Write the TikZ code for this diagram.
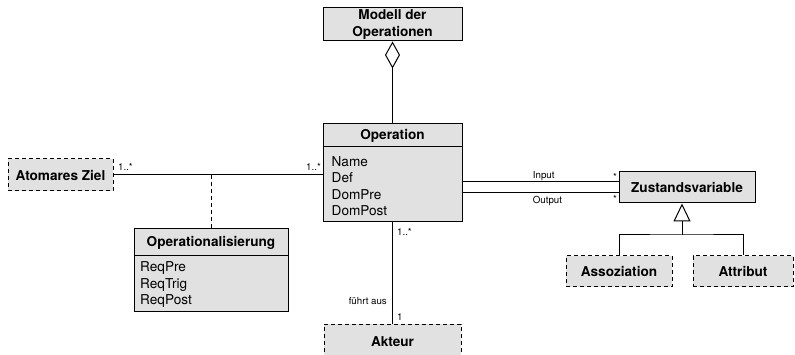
\documentclass[tikz,border=0pt]{standalone}
\usepackage{fontspec}
\setmainfont{TeX Gyre Heros}
\usetikzlibrary{arrows.meta}
\definecolor{boxfill}{RGB}{225,225,225}
\begin{document}
\begin{tikzpicture}[x=1pt,y=-1pt,
  classbox/.style={draw,line width=1pt,fill=boxfill,inner sep=0pt},
  dashbox/.style={classbox,dash pattern=on 4pt off 3pt},
  title/.style={font=\fontsize{13.6}{16.4}\selectfont\bfseries,inner sep=0pt},
  attr/.style={font=\fontsize{13.6}{16.4}\selectfont,inner sep=0pt,anchor=base west},
  small/.style={font=\fontsize{9.7}{11}\selectfont,inner sep=0pt},
  conn/.style={line width=1pt}]
\useasboundingbox (0,0) rectangle (795,355);

% class boxes
\node[classbox,minimum width=139pt,minimum height=33pt] (mod) at (392.5,24.5) {};
\node[title,align=center] (modt) at (mod.center) {Modell der\\Operationen};

\node[classbox,minimum width=139pt,minimum height=98pt] (op) at (392.5,173) {};
\draw[conn] (323,147) -- (462,147);
\node[title] (opt) at (392.5,135.5) {Operation};
\node[attr] (op1) at (331.5,166.6) {Name};
\node[attr] (op2) at (331.5,183.0) {Def};
\node[attr] (op3) at (331.5,199.4) {DomPre};
\node[attr] (op4) at (331.5,215.8) {DomPost};

\node[dashbox,minimum width=105pt,minimum height=32pt] (ziel) at (60.5,175) {};
\node[title] (zielt) at (ziel.center) {Atomares Ziel};

\node[classbox,minimum width=154pt,minimum height=83pt] (opz) at (211,270.5) {};
\draw[conn] (134,256) -- (288,256);
\node[title] (opzt) at (211,242.5) {Operationalisierung};
\node[attr] (opz1) at (140,271.6) {ReqPre};
\node[attr] (opz2) at (140,288.2) {ReqTrig};
\node[attr] (opz3) at (140,304.8) {ReqPost};

\node[classbox,minimum width=136pt,minimum height=31pt] (zv) at (687,187.5) {};
\node[title] (zvt) at (zv.center) {Zustandsvariable};

\node[dashbox,minimum width=106pt,minimum height=31pt] (ass) at (619,271.5) {};
\node[title] (asst) at (ass.center) {Assoziation};

\node[dashbox,minimum width=100pt,minimum height=31pt] (att) at (743,271.5) {};
\node[title] (attt) at (att.center) {Attribut};

\node[dashbox,minimum width=137pt,minimum height=38pt] (akt) at (392.5,343) {};
\node[title] (aktt) at (392.5,342) {Akteur};

% aggregation
\draw[conn,-{Diamond[open,width=15pt,length=27pt,line width=1pt]}] (op.north) -- (mod.south);

% association Atomares Ziel -- Operation with association class
\coordinate (ac) at (211,175);
\draw[conn] (ziel.east) -- (ziel.east -| op.west);
\draw[conn,dash pattern=on 4pt off 3pt] (ac) -- (opz.north);
\node[small,anchor=base west] (m1) at (118,171) {1..*};
\node[small,anchor=base east] (m2) at (321,171) {1..*};

% Input / Output
\draw[conn] ([yshift=5.5pt]zv.west) -- ([yshift=5.5pt]zv.west -| op.east);
\draw[conn] ([yshift=-5.5pt]zv.west) -- ([yshift=-5.5pt]zv.west -| op.east);
\node[small,anchor=base west] (lin) at (532.7,178.5) {Input};
\node[small,anchor=base west] (lout) at (532.7,204) {Output};
\node[small,anchor=base east] (s1) at (617,181) {*};
\node[small,anchor=base east] (s2) at (617,203) {*};

% generalization
\coordinate (gen) at (682,235);
\draw[conn,-{Triangle[open,width=17pt,length=18pt,line width=1pt]}] (gen) -- (gen |- zv.south);
\draw[conn] (ass.north) |- (gen) -| (att.north);

% Operation -- Akteur
\draw[conn] (op.south) -- (akt.north);
\node[small,anchor=base west] (m3) at (397,236) {1..*};
\node[small,anchor=base east] (lf) at (387,305) {führt aus};
\node[small,anchor=base west] (m4) at (397,320) {1};
\end{tikzpicture}
\end{document}
